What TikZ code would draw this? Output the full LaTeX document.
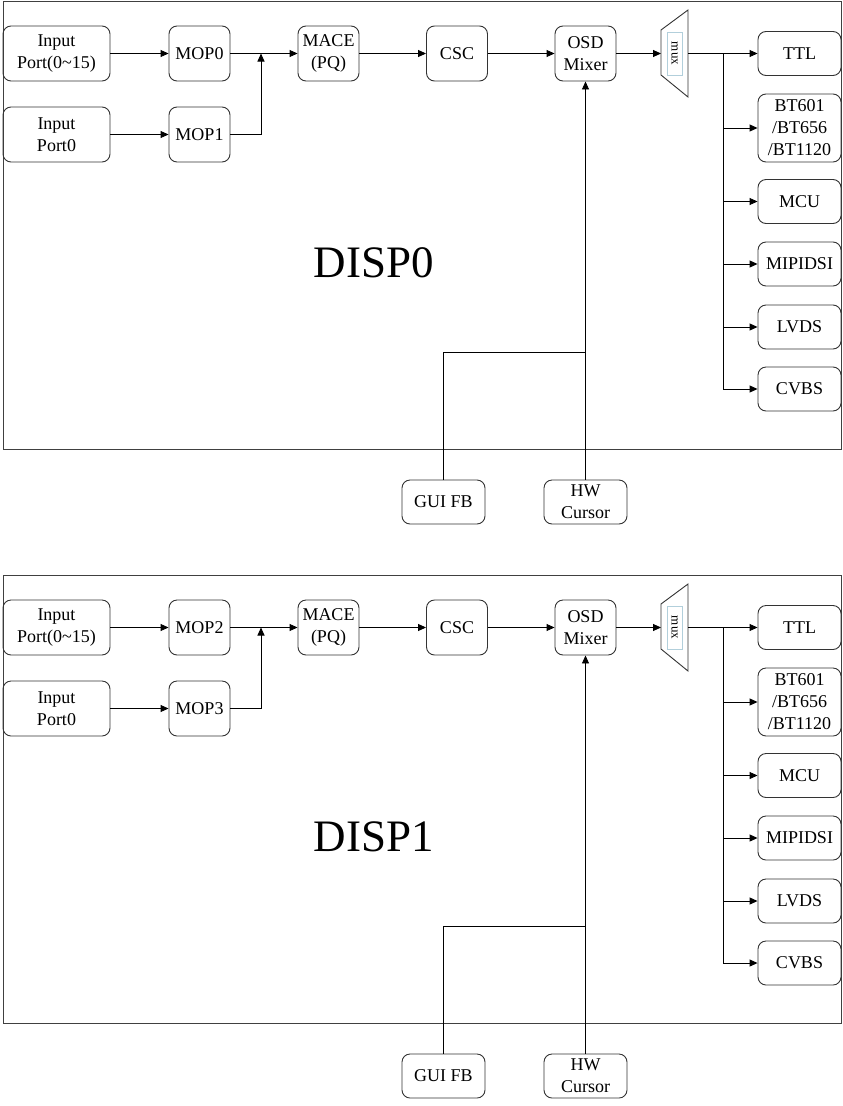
\documentclass[tikz,border=0pt]{standalone}
\usepackage{fontspec}
\setmainfont{Liberation Serif}
\usetikzlibrary{arrows.meta}

\tikzset{
  blk/.style={draw=black!80, rounded corners=8pt, line width=0.9pt, align=center,
    inner sep=0pt, font=\fontsize{18}{22}\selectfont},
  inblk/.style={blk, minimum width=107pt, minimum height=55pt},
  midblk/.style={blk, minimum width=61pt, minimum height=55pt},
  outblk/.style={blk, minimum width=83pt, minimum height=44pt},
  frame/.style={draw=black!75, line width=0.9pt},
  wire/.style={line width=0.9pt, -{Triangle[length=8pt,width=7pt]}}
}

\begin{document}
\begin{tikzpicture}[x=1pt,y=-1pt]
\useasboundingbox (0,0) rectangle (843,1106);
\foreach \p/\o/\ma/\mb in {0/0/0/1, 1/574/2/3} {
\begin{scope}[yshift=-\o pt]
\draw[frame] (3,1) rectangle (841,449);
% inputs and MOP
\node[inblk] (inA\p) at (56.5,53.5) {Input\\Port(0\~{}15)};
\node[inblk] (inB\p) at (56.5,134.5) {Input\\Port0};
\node[midblk] (mopA\p) at (199.5,53.5) {MOP\ma};
\node[midblk] (mopB\p) at (199.5,134.5) {MOP\mb};
\node[midblk] (mace\p) at (328.5,53.5) {MACE\\(PQ)};
\node[midblk] (csc\p) at (457,53.5) {CSC};
\node[midblk] (osd\p) at (585.5,53.5) {OSD\\Mixer};
% mux
\draw[line width=0.9pt, draw=black!80] (661,30) -- (688,10) -- (688,97) -- (661,75) -- cycle;
\node[draw=cyan!40!gray!50, line width=0.8pt, minimum width=15pt, minimum height=43pt, inner sep=0pt] (mux\p) at (674.5,53.5) {};
\node[rotate=-90, font=\fontsize{13}{13}\selectfont] at (mux\p) {mux};
\coordinate (muxin\p) at (661,53.5);
\coordinate (muxout\p) at (688,53.5);
\coordinate (jn\p) at (261,53.5);
\coordinate (br\p) at (723,53.5);
\coordinate (mx\p) at (585.5,352);
% outputs
\node[outblk] (ttl\p) at (799.5,53.5) {TTL};
\node[outblk, minimum height=68pt] (bt\p) at (799.5,128) {BT601\\/BT656\\/BT1120};
\node[outblk] (mcu\p) at (799.5,201.5) {MCU};
\node[outblk] (mipi\p) at (799.5,264) {MIPIDSI};
\node[outblk] (lvds\p) at (799.5,327) {LVDS};
\node[outblk] (cvbs\p) at (799.5,389) {CVBS};
\node[outblk] (gui\p) at (443.5,502) {GUI FB};
\node[outblk] (hw\p) at (585.5,502) {HW\\Cursor};
\node[font=\fontsize{45}{45}\selectfont] (disp\p) at (374,263) {DISP\p};
% wires
\draw[wire] (inA\p) -- (mopA\p);
\draw[wire] (inB\p) -- (mopB\p);
\draw[wire] (mopA\p) -- (mace\p);
\draw[wire] (mopB\p.east) -| (jn\p);
\draw[wire] (mace\p) -- (csc\p);
\draw[wire] (csc\p) -- (osd\p);
\draw[wire] (osd\p) -- (muxin\p);
\draw[wire] (muxout\p) -- (ttl\p);
\draw[line width=0.9pt] (br\p) -- (br\p |- cvbs\p.west);
\foreach \n in {bt,mcu,mipi,lvds,cvbs}
  \draw[wire] (br\p |- \n\p.west) -- (\n\p.west);
\draw[wire] (hw\p) -- (osd\p);
\draw[line width=0.9pt] (gui\p) |- (mx\p);
\end{scope}
}
\end{tikzpicture}
\end{document}
